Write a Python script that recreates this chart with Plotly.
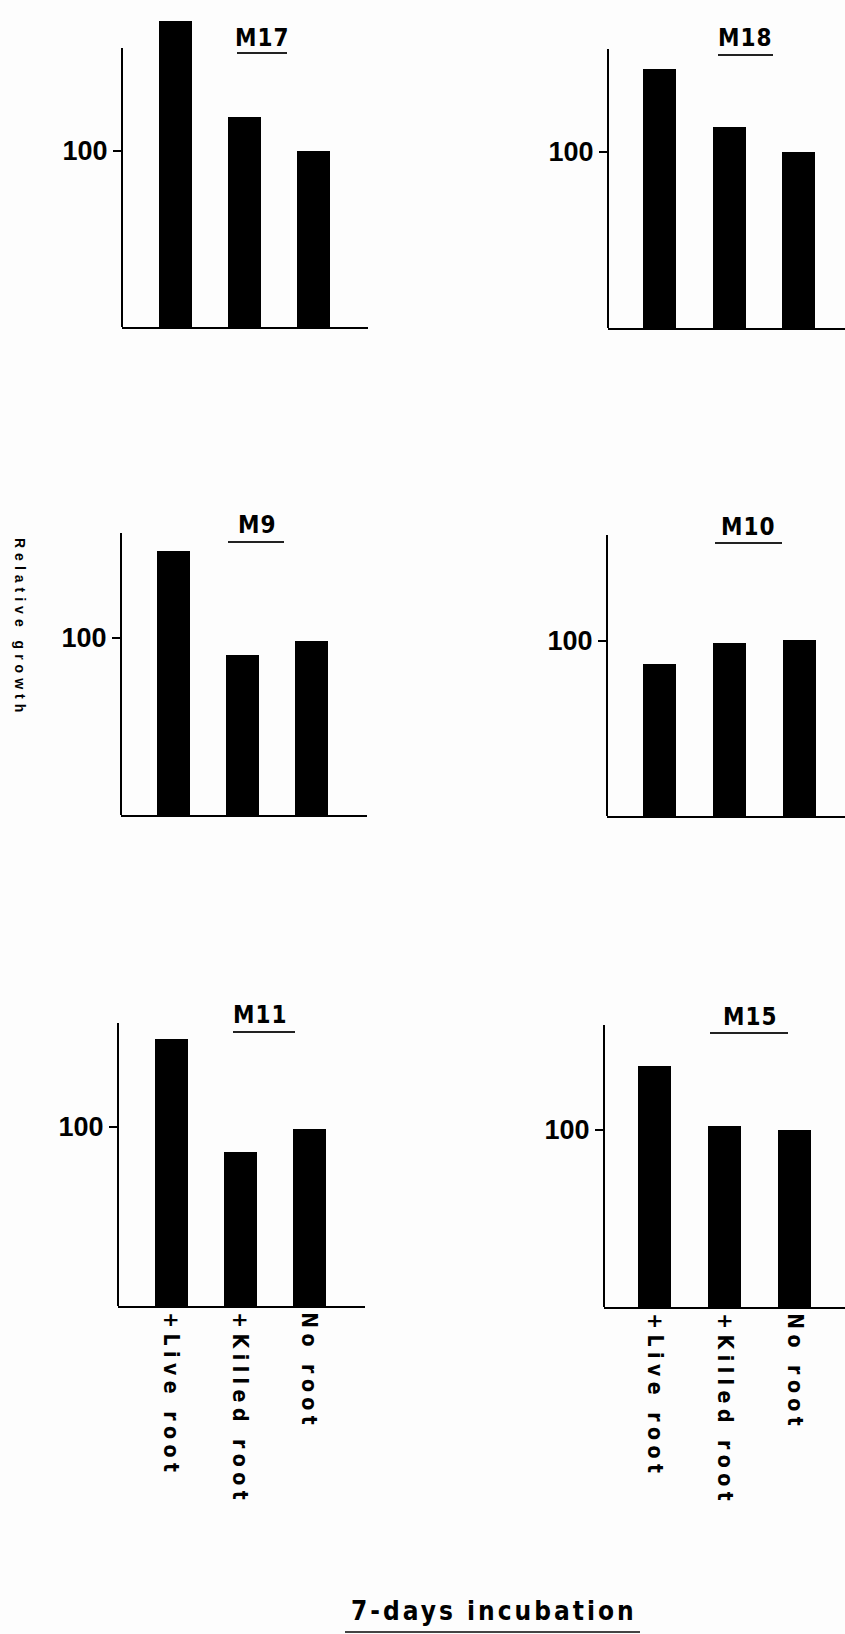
import plotly.graph_objects as go

W, H = 845, 1634

# ---- data -----------------------------------------------------------------
categories = ["+Live root", "+Killed root", "No root"]
panel_names = ["M17", "M18", "M9", "M10", "M11", "M15"]

m17 = [174, 119, 100]
m18 = [147, 114, 100]
m9 = [149, 90, 98]
m10 = [87, 99, 100.5]
m11 = [149, 86, 99]
m15 = [136, 102, 100]
series = [m17, m18, m9, m10, m11, m15]

y_tick_vals = [100]
y_tick_text = ["100"]

y_label = "Relative growth"
x_caption = "7-days incubation"

# ---- page geometry (pixels) ---------------------------------------------------
# axis_x: y-axis position, c0: first bar centre, step: bar spacing,
# right: end of x axis, base: baseline, y100: height of the 100 tick,
# top: top of the y-axis line, title: title centre, ul: title underline
frames = [
    dict(axis_x=122, c0=175.0, step=69.0, right=368, base=327, y100=151, top=48,
         title=(262, 38), ul=(237, 287, 53)),
    dict(axis_x=608, c0=659.5, step=69.5, right=845, base=328, y100=152, top=49,
         title=(745, 38), ul=(718, 773, 55)),
    dict(axis_x=121, c0=173.5, step=69.0, right=367, base=815, y100=638, top=533,
         title=(257, 525), ul=(228, 284, 542)),
    dict(axis_x=607, c0=659.0, step=70.0, right=845, base=816, y100=641, top=535,
         title=(748, 527), ul=(715, 782, 543)),
    dict(axis_x=118, c0=171.0, step=69.0, right=365, base=1306, y100=1127, top=1023,
         title=(260, 1015), ul=(233, 295, 1032)),
    dict(axis_x=604, c0=654.5, step=70.0, right=845, base=1307, y100=1130, top=1025,
         title=(750, 1017), ul=(710, 788, 1033)),
]
bottom_row = {4, 5}

Y_MAX = 180
BAR_PX = 33

NARROW = "Liberation Sans Narrow, DejaVu Sans Condensed, Arial Narrow, sans-serif"
SANS = "Liberation Sans, Arial, Helvetica, sans-serif"


def fx(px):
    return px / W


def fy(px):
    return 1 - px / H


def spaced(text, px):
    return f'<span style="letter-spacing:{px}px">{text}</span>'


fig = go.Figure()
shapes = []
annotations = []
layout_axes = {}

for i, (name, vals, f) in enumerate(zip(panel_names, series, frames)):
    n = i + 1
    xname = "x" if n == 1 else f"x{n}"
    yname = "y" if n == 1 else f"y{n}"
    xkey = "xaxis" if n == 1 else f"xaxis{n}"
    ykey = "yaxis" if n == 1 else f"yaxis{n}"

    ppu = (f["base"] - f["y100"]) / 100.0
    x_lo = (f["axis_x"] - f["c0"]) / f["step"]
    x_hi = (f["right"] - f["c0"]) / f["step"]

    fig.add_trace(go.Bar(
        x=list(range(len(categories))), y=vals,
        xaxis=xname, yaxis=yname,
        width=BAR_PX / f["step"],
        marker=dict(color="black", line=dict(width=0)),
        showlegend=False, hoverinfo="skip",
    ))

    is_bottom = i in bottom_row
    layout_axes[xkey] = dict(
        domain=[fx(f["axis_x"]), fx(f["right"])],
        range=[x_lo, x_hi], anchor=yname,
        showline=True, linecolor="black", linewidth=2,
        showgrid=False, zeroline=False, ticks="",
        tickmode="array", tickvals=list(range(len(categories))),
        ticktext=[spaced(c, 5.5) for c in categories],
        showticklabels=is_bottom, tickangle=90,
        tickfont=dict(family=NARROW, size=21, color="black", weight="bold"),
    )
    layout_axes[ykey] = dict(
        domain=[fy(f["base"]), fy(f["base"] - Y_MAX * ppu)],
        range=[0, Y_MAX], anchor=xname,
        showline=False, showgrid=False, zeroline=False,
        tickmode="array", tickvals=y_tick_vals, ticktext=y_tick_text,
        ticks="outside", ticklen=8, tickwidth=2, tickcolor="black",
        ticklabelstandoff=0,
        tickfont=dict(family=SANS, size=27, color="black", weight="bold"),
    )

    # vertical axis line, shorter than the tallest bars
    shapes.append(dict(
        type="line", xref=f"{xname} domain", yref=yname,
        x0=0, x1=0, y0=0, y1=(f["base"] - f["top"]) / ppu,
        line=dict(color="black", width=2),
    ))

    # panel title with underline
    tx, ty = f["title"]
    annotations.append(dict(
        text=spaced(name, 1), xref="paper", yref="paper",
        x=fx(tx), y=fy(ty), xanchor="center", yanchor="middle",
        showarrow=False,
        font=dict(family=NARROW, size=24, color="black", weight="bold"),
    ))
    u0, u1, uy = f["ul"]
    shapes.append(dict(
        type="line", xref="paper", yref="paper",
        x0=fx(u0), x1=fx(u1), y0=fy(uy), y1=fy(uy),
        line=dict(color="#222222", width=2),
    ))

# shared y label
annotations.append(dict(
    text=spaced(y_label, 5), xref="paper", yref="paper",
    x=fx(20), y=fy(627), xanchor="center", yanchor="middle",
    textangle=90, showarrow=False,
    font=dict(family=SANS, size=14, color="black", weight="bold"),
))

# caption below the panels
annotations.append(dict(
    text=spaced(x_caption, 3), xref="paper", yref="paper",
    x=fx(494), y=fy(1611), xanchor="center", yanchor="middle",
    showarrow=False,
    font=dict(family=NARROW, size=26, color="black", weight="bold"),
))
shapes.append(dict(
    type="line", xref="paper", yref="paper",
    x0=fx(345), x1=fx(640), y0=fy(1632), y1=fy(1632),
    line=dict(color="#444444", width=2),
))

fig.update_layout(
    width=W, height=H,
    margin=dict(l=0, r=0, t=0, b=0),
    paper_bgcolor="#fdfdfd", plot_bgcolor="rgba(0,0,0,0)",
    shapes=shapes, annotations=annotations,
    bargap=0,
    **layout_axes,
)

fig.write_html("out.html")
